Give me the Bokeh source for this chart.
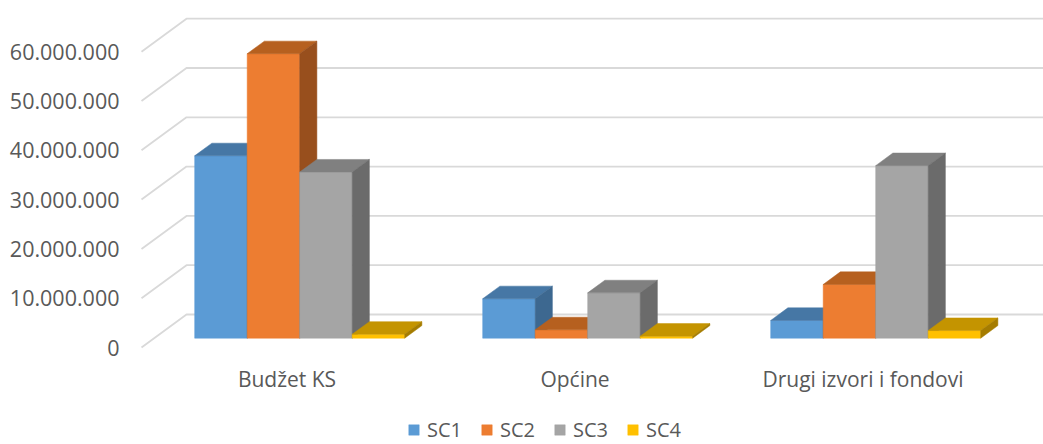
from bokeh.plotting import figure
from bokeh.models import Range1d, FixedTicker, Legend, LegendItem
from bokeh.embed import file_html
from bokeh.resources import INLINE
from bokeh.core.properties import value

# ---------------- data ----------------
categories = ["Budžet KS", "Općine", "Drugi izvori i fondovi"]
series_names = ["SC1", "SC2", "SC3", "SC4"]
sc1 = [37_000_000, 8_000_000, 3_600_000]
sc2 = [57_700_000, 1_700_000, 10_900_000]
sc3 = [33_700_000, 9_200_000, 35_000_000]
sc4 = [800_000, 400_000, 1_550_000]
y_ticks = [0, 10_000_000, 20_000_000, 30_000_000, 40_000_000, 50_000_000, 60_000_000]
y_tick_labels = ["0", "10.000.000", "20.000.000", "30.000.000",
                 "40.000.000", "50.000.000", "60.000.000"]

series_values = [sc1, sc2, sc3, sc4]
front_colors = ["#5B9BD5", "#ED7D31", "#A5A5A5", "#FFC000"]
top_colors = ["#4677A5", "#B6601F", "#808080", "#C49400"]
side_colors = ["#3D6890", "#984F1D", "#6B6B6B", "#A57C00"]

# ---------------- layout ----------------
W, H = 1043, 444
BORDER_L = 133
FRAME_W = W - BORDER_L
PX_PER_CAT = 288.0          # screen px per category step
PX_PER_VAL = 4.93e-6        # screen px per value unit
ZERO_FROM_TOP = 347         # frame px from top to front-plane zero
CAT0_PX = 153.5             # frame px of first category centre (front plane)

x_start = -CAT0_PX / PX_PER_CAT
x_end = x_start + FRAME_W / PX_PER_CAT
y_end = ZERO_FROM_TOP / PX_PER_VAL
y_start = -(H - ZERO_FROM_TOP) / PX_PER_VAL

DEPTH_X = 45 / PX_PER_CAT
DEPTH_Y = 33 / PX_PER_VAL
D0, D1 = 0.282, 0.664
BAR_W = 52.5 / PX_PER_CAT
WALL_X = x_start + 8 / PX_PER_CAT

TEXT_COLOR = "#595959"
GRID_COLOR = "#D9D9D9"
FONT = "Open Sans"

p = figure(width=W, height=H, output_backend="svg", toolbar_location=None,
           x_range=Range1d(x_start, x_end), y_range=Range1d(y_start, y_end),
           min_border_left=BORDER_L, min_border_right=0, min_border_top=0,
           min_border_bottom=0, x_axis_location=None)
p.outline_line_color = None
p.xgrid.visible = False
p.ygrid.visible = False
p.background_fill_color = "white"
p.border_fill_color = "white"

# y axis
ax = p.yaxis[0]
ax.ticker = FixedTicker(ticks=y_ticks, minor_ticks=[])
ax.major_label_overrides = {t: l for t, l in zip(y_ticks, y_tick_labels)}
ax.axis_line_color = None
ax.major_tick_line_color = None
ax.minor_tick_line_color = None
ax.major_tick_out = 0
ax.major_tick_in = 0
ax.minor_tick_out = 0
ax.major_label_standoff = 14
ax.major_label_text_font = FONT
ax.major_label_text_font_size = "21.5px"
ax.major_label_text_color = TEXT_COLOR

# gridlines: left wall diagonals + back wall horizontals
for t in y_ticks:
    p.line([WALL_X, WALL_X + DEPTH_X, x_end + 1],
           [t, t + DEPTH_Y, t + DEPTH_Y],
           line_color=GRID_COLOR, line_width=1.8)

# bars (drawn left to right so nearer faces cover farther ones)
n = len(series_names)
legend_items = []
for s in range(n):
    vals = series_values[s]
    fx0, fx1, fb, ft = [], [], [], []
    txs, tys, sxs, sys_ = [], [], [], []
    for i, v in enumerate(vals):
        x0 = i - n * BAR_W / 2 + s * BAR_W
        x1 = x0 + BAR_W
        fx0.append(x0 + DEPTH_X * D0)
        fx1.append(x1 + DEPTH_X * D0)
        fb.append(DEPTH_Y * D0)
        ft.append(v + DEPTH_Y * D0)
        txs.append([x0 + DEPTH_X * D0, x1 + DEPTH_X * D0, x1 + DEPTH_X * D1, x0 + DEPTH_X * D1])
        tys.append([v + DEPTH_Y * D0, v + DEPTH_Y * D0, v + DEPTH_Y * D1, v + DEPTH_Y * D1])
        sxs.append([x1 + DEPTH_X * D0, x1 + DEPTH_X * D1, x1 + DEPTH_X * D1, x1 + DEPTH_X * D0])
        sys_.append([DEPTH_Y * D0, DEPTH_Y * D1, v + DEPTH_Y * D1, v + DEPTH_Y * D0])
    r = p.quad(left=fx0, right=fx1, bottom=fb, top=ft,
               fill_color=front_colors[s], line_color=front_colors[s], line_width=0.5)
    p.patches(txs, tys, fill_color=top_colors[s], line_color=top_colors[s], line_width=0.5)
    p.patches(sxs, sys_, fill_color=side_colors[s], line_color=side_colors[s], line_width=0.5)
    legend_items.append(LegendItem(label=series_names[s], renderers=[r]))

# category labels
lab_y = -(378 - ZERO_FROM_TOP) / PX_PER_VAL
p.text(x=list(range(len(categories))), y=[lab_y] * len(categories), text=categories,
       text_font=value(FONT), text_font_size="21px", text_color=TEXT_COLOR,
       text_align="center", text_baseline="middle")

legend = Legend(items=legend_items, orientation="horizontal", location=(274, 1),
                glyph_width=13, glyph_height=13, label_standoff=7, spacing=18,
                padding=0, margin=0, border_line_color=None, background_fill_alpha=0,
                label_text_font=FONT, label_text_font_size="20px",
                label_text_color=TEXT_COLOR)
p.add_layout(legend)

open("out.html", "w").write(file_html(p, INLINE))
